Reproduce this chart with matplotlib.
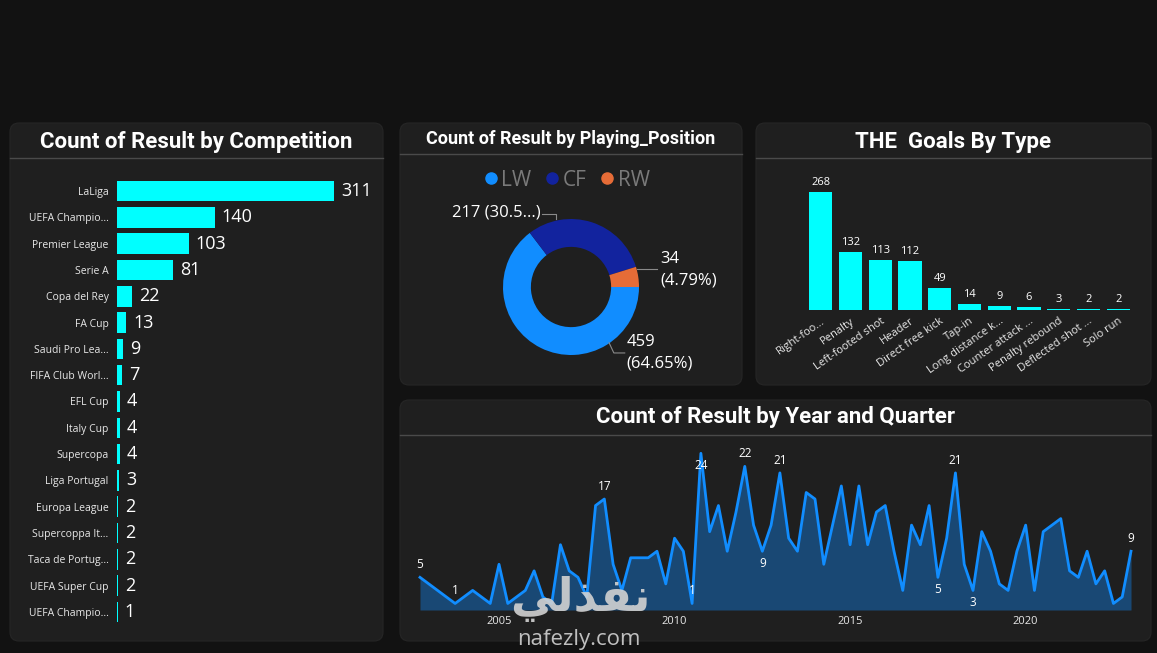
import matplotlib
matplotlib.use("Agg")
import matplotlib.pyplot as plt
from matplotlib.patches import FancyBboxPatch
from matplotlib.lines import Line2D
import numpy as np

plt.rcParams['font.family'] = ['Open Sans', 'DejaVu Sans']

# ---- data ----
competitions = ["LaLiga", "UEFA Champio...", "Premier League", "Serie A", "Copa del Rey",
                "FA Cup", "Saudi Pro Lea...", "FIFA Club Worl...", "EFL Cup", "Italy Cup",
                "Supercopa", "Liga Portugal", "Europa League", "Supercoppa It...",
                "Taca de Portug...", "UEFA Super Cup", "UEFA Champio..."]
comp_counts = [311, 140, 103, 81, 22, 13, 9, 7, 4, 4, 4, 3, 2, 2, 2, 2, 1]

positions = ["LW", "CF", "RW"]
pos_counts = [459, 217, 34]
pos_labels = ["459\n(64.65%)", "217 (30.5...)", "34\n(4.79%)"]

goal_types = ["Right-foo...", "Penalty", "Left-footed shot", "Header", "Direct free kick",
              "Tap-in", "Long distance k...", "Counter attack ...", "Penalty rebound",
              "Deflected shot ...", "Solo run"]
type_counts = [268, 132, 113, 112, 49, 14, 9, 6, 3, 2, 2]

quarters = ["2002 Q4", "2003 Q4", "2004 Q2", "2004 Q4", "2005 Q1", "2005 Q2", "2005 Q4",
            "2006 Q1", "2006 Q2", "2006 Q3", "2006 Q4",
            "2007 Q1", "2007 Q2", "2007 Q3", "2007 Q4",
            "2008 Q1", "2008 Q2", "2008 Q3", "2008 Q4",
            "2009 Q1", "2009 Q2", "2009 Q3", "2009 Q4",
            "2010 Q1", "2010 Q2", "2010 Q3", "2010 Q4",
            "2011 Q1", "2011 Q2", "2011 Q3", "2011 Q4",
            "2012 Q1", "2012 Q2", "2012 Q3", "2012 Q4",
            "2013 Q1", "2013 Q2", "2013 Q3", "2013 Q4",
            "2014 Q1", "2014 Q2", "2014 Q3", "2014 Q4",
            "2015 Q1", "2015 Q2", "2015 Q3", "2015 Q4",
            "2016 Q1", "2016 Q2", "2016 Q3", "2016 Q4",
            "2017 Q1", "2017 Q2", "2017 Q3", "2017 Q4",
            "2018 Q1", "2018 Q2", "2018 Q3", "2018 Q4",
            "2019 Q1", "2019 Q2", "2019 Q3", "2019 Q4",
            "2020 Q1", "2020 Q2", "2020 Q3", "2020 Q4",
            "2021 Q1", "2021 Q2", "2021 Q3", "2021 Q4",
            "2022 Q1", "2022 Q2", "2022 Q3", "2022 Q4",
            "2023 Q1"]
quarter_goals = [5, 1, 3, 1, 7, 1, 3,
                 6, 2, 1, 10,
                 6, 5, 2, 16,
                 17, 7, 3, 8,
                 8, 8, 9, 4,
                 11, 9, 1, 24,
                 12, 16, 9, 15,
                 22, 13, 9, 13,
                 21, 11, 9, 18,
                 17, 7, 13, 19,
                 10, 19, 10, 15,
                 16, 9, 3, 13,
                 10, 16, 5, 11,
                 21, 7, 3, 12,
                 9, 4, 3, 9,
                 13, 3, 12, 13,
                 14, 6, 5, 9,
                 4, 6, 1, 2,
                 9]
# labelled points: quarter -> above (+1) / below (-1)
shown_labels = {"2002 Q4": 1, "2003 Q4": 1, "2008 Q1": 1, "2010 Q3": 1, "2010 Q4": -1,
                "2012 Q1": 1, "2012 Q3": -1, "2013 Q1": 1, "2017 Q3": -1, "2018 Q1": 1,
                "2018 Q3": -1, "2023 Q1": 1}

CYAN = "#00FFFF"
BLUE = "#118DFF"
pos_colors = ["#118DFF", "#12239E", "#E66C37"]
PANEL = "#1f1f1f"
TXT = "#e8e8e8"

W, H = 1157, 653
fig = plt.figure(figsize=(W / 100, H / 100), dpi=100)
fig.patch.set_facecolor("#121212")


def px_axes(x0, y0, x1, y1):
    a = fig.add_axes([x0 / W, 1 - y1 / H, (x1 - x0) / W, (y1 - y0) / H])
    a.set_facecolor("none")
    for s in a.spines.values():
        s.set_visible(False)
    return a


bg = fig.add_axes([0, 0, 1, 1])
bg.set_xlim(0, W)
bg.set_ylim(H, 0)
bg.axis("off")

panels = [(10, 123, 383, 641, "Count of Result by Competition", 142, 158, 16),
          (400, 123, 742, 385, "Count of Result by Playing_Position", 139, 154, 13),
          (756, 123, 1151, 385, "THE  Goals By Type", 142, 158, 16),
          (400, 400, 1151, 641, "Count of Result by Year and Quarter", 417, 435, 16)]
for x0, y0, x1, y1, title, ty, sy, fs in panels:
    bg.add_patch(FancyBboxPatch((x0, y0), x1 - x0, y1 - y0,
                                boxstyle="round,pad=0,rounding_size=9",
                                fc=PANEL, ec="#262626", lw=0.8))
    bg.text((x0 + x1) / 2, ty, title, ha="center", va="center", fontsize=fs,
            color="white", fontweight="bold", family=["Roboto", "DejaVu Sans"])
    bg.plot([x0, x1], [sy, sy], color="#4a4a4a", lw=1)

# ---- competition bars ----
ax1 = px_axes(117, 178, 382, 625)
yy = np.arange(len(competitions))
bars = ax1.barh(yy, comp_counts, height=0.78, color=CYAN)
ax1.set_ylim(len(competitions) - 0.5, -0.5)
ax1.set_xlim(0, 380)
ax1.set_yticks(yy, competitions, fontsize=7.5, color=TXT)
ax1.set_xticks([])
ax1.tick_params(length=0, pad=6)
ax1.bar_label(bars, padding=5, fontsize=13, color="white")

# ---- donut ----
ax2 = px_axes(503, 219, 639, 355)
wedges, _ = ax2.pie(pos_counts, colors=pos_colors, startangle=0, counterclock=False,
                    radius=1, wedgeprops=dict(width=0.41, edgecolor="none"))
ax2.set_xlim(-1, 1)
ax2.set_ylim(-1, 1)
leaders = [[(0.56, -0.82), (0.63, -0.97), (0.79, -0.97)],
           [(-0.22, 1.0), (-0.22, 1.07), (-0.42, 1.07)],
           [(0.97, 0.27), (1.27, 0.27)]]
text_pos = [(0.82, -0.97, "left"), (-0.44, 1.09, "right"), (1.31, 0.25, "left")]
for pts, (tx, ty, ha), lab in zip(leaders, text_pos, pos_labels):
    p = np.array(pts)
    ax2.plot(p[:, 0], p[:, 1], color="#8a8a8a", lw=0.8, clip_on=False)
    ax2.text(tx, ty, lab, ha=ha, va="center", fontsize=12, color="white",
             linespacing=1.45, clip_on=False)
handles = [Line2D([], [], marker="o", ls="", color=c, markersize=8) for c in pos_colors]
ax2.legend(handles, positions, loc="center", bbox_to_anchor=(565 / W, 1 - 180 / H),
           bbox_transform=fig.transFigure, ncol=3, frameon=False, fontsize=15,
           labelcolor="#7a7a7a", handletextpad=0.0, columnspacing=0.5,
           handlelength=1.0)

# ---- goal types ----
ax3 = px_axes(806, 178, 1133, 310)
xx = np.arange(len(goal_types))
tb = ax3.bar(xx, type_counts, width=0.78, color=CYAN)
ax3.set_xlim(-0.5, len(goal_types) - 0.5)
ax3.set_ylim(0, 300)
ax3.set_yticks([])
ax3.set_xticks(xx, goal_types, rotation=35, ha="right", rotation_mode="anchor",
               fontsize=8, color=TXT)
ax3.tick_params(length=0, pad=4)
ax3.bar_label(tb, padding=3, fontsize=8, color="white")

# ---- goals per quarter ----
ax4 = px_axes(410, 437, 1141, 610)
qx = np.array([int(q[:4]) + (int(q[-1]) - 1) / 4 for q in quarters])
qy = np.array(quarter_goals)
ax4.fill_between(qx, qy, 0, color=BLUE, alpha=0.38, lw=0)
ax4.plot(qx, qy, color=BLUE, lw=2)
ax4.set_xlim(2002.75 - 10 / 35.11, 2023.0 + 10 / 35.11)
ax4.set_ylim(0, 26.5)
ax4.set_yticks([])
ax4.set_xticks([2005, 2010, 2015, 2020], ["2005", "2010", "2015", "2020"],
               fontsize=8, color=TXT)
ax4.tick_params(length=0, pad=4)
for q, side in shown_labels.items():
    i = quarters.index(q)
    ax4.annotate(str(quarter_goals[i]), (qx[i], qy[i]), xytext=(0, 9 * side),
                 textcoords="offset points", ha="center", va="center",
                 fontsize=8.5, color="white")

# watermark
fig.text(580 / W, 1 - 599 / H, "\ufef2\ufedf\ufeac\ufed4\ufee7", ha="center", va="center",
         fontsize=33, fontweight="bold", color="#d2d2d2", alpha=0.9,
         family=["DejaVu Sans"])
fig.text(579 / W, 1 - 640 / H, "nafezly.com", ha="center", va="center",
         fontsize=16, color="#d2d2d2", alpha=0.9)

fig.savefig("out.png", dpi=100, facecolor=fig.get_facecolor())
